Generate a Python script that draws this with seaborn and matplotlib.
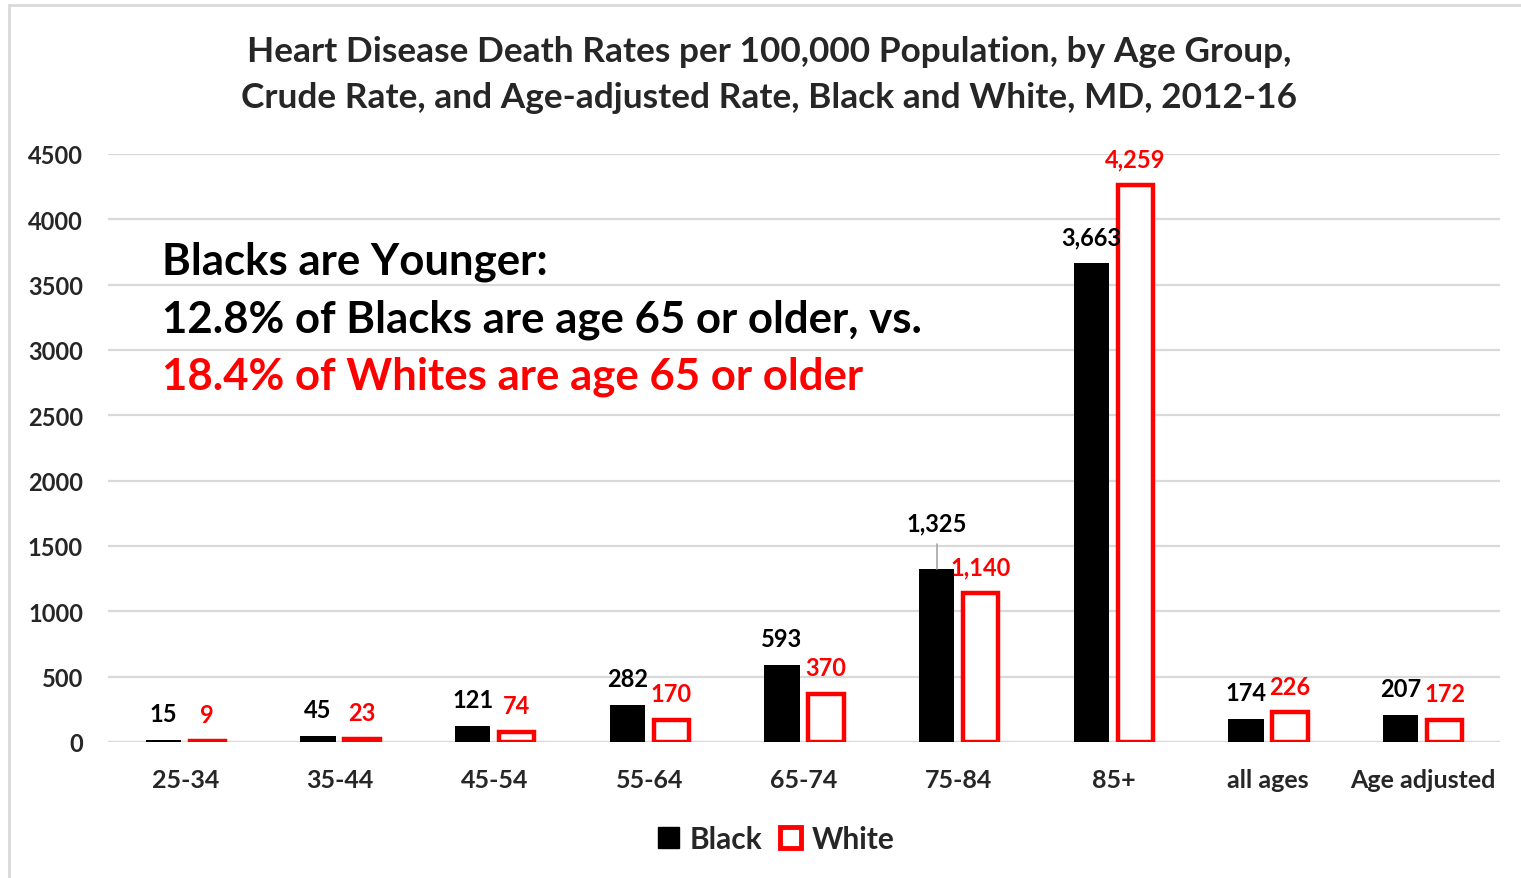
import pandas as pd
import seaborn as sns
import matplotlib.pyplot as plt
from matplotlib.patches import Rectangle, Patch

# data
age_groups = ["25-34", "35-44", "45-54", "55-64", "65-74", "75-84", "85+", "all ages", "Age adjusted"]
black_rates = [15, 45, 121, 282, 593, 1325, 3663, 174, 207]
white_rates = [9, 23, 74, 170, 370, 1140, 4259, 226, 172]
y_ticks = [0, 500, 1000, 1500, 2000, 2500, 3000, 3500, 4000, 4500]

df = pd.DataFrame({
    "group": age_groups * 2,
    "race": ["Black"] * len(age_groups) + ["White"] * len(age_groups),
    "rate": black_rates + white_rates,
})

sns.set_theme(style="white")
plt.rcParams["font.family"] = ["Lato", "DejaVu Sans"]
plt.rcParams["font.weight"] = "bold"

W, H = 1521, 879
fig = plt.figure(figsize=(W / 100, H / 100), dpi=100)
ax = fig.add_axes([108 / W, 1 - 743 / H, (1500 - 108) / W, (743 - 155) / H])

sns.barplot(data=df, x="group", y="rate", hue="race", order=age_groups,
            hue_order=["Black", "White"], palette={"Black": "black", "White": "white"},
            width=0.57, gap=0.2, ax=ax, legend=False, saturation=1)

red = "#ff0000"
for p in ax.containers[0]:
    p.set_linewidth(0)
for p in ax.containers[1]:
    p.set_edgecolor(red)
    p.set_linewidth(3.2)

# value labels
for cont, vals, col in [(ax.containers[0], black_rates, "black"), (ax.containers[1], white_rates, red)]:
    for p, v in zip(cont, vals):
        x = p.get_x() + p.get_width() / 2
        dy = 19
        if v == 1325:
            # label lifted with a leader line, like the original
            dy = 33
            ax.plot([x, x], [v, v + 190], color="#a6a6a6", lw=1.2, zorder=1)
        ax.annotate(f"{v:,}", xy=(x, v), xytext=(0, dy), textcoords="offset points",
                    ha="center", va="center", fontsize=17, fontweight="bold", color=col)

ax.set_ylim(0, 4500)
ax.set_xlim(-0.5, len(age_groups) - 0.5)
ax.set_yticks(y_ticks)
ax.set_yticklabels([str(t) for t in y_ticks])
ax.yaxis.grid(True, color="#d9d9d9", lw=1.6)
ax.set_axisbelow(True)
ax.axhline(0, color="#d9d9d9", lw=1.6, zorder=0)
sns.despine(ax=ax, left=True, bottom=True)
ax.tick_params(axis="y", length=0, pad=18, labelsize=17)
ax.tick_params(axis="x", length=0, pad=19, labelsize=18)
for lbl in ax.get_xticklabels() + ax.get_yticklabels():
    lbl.set_fontweight("bold")
ax.set_xlabel("")
ax.set_ylabel("")

fig.text(769 / W, 1 - 52 / H, "Heart Disease Death Rates per 100,000 Population, by Age Group,",
         ha="center", va="center", fontsize=25.4, fontweight="bold")
fig.text(769 / W, 1 - 98 / H, "Crude Rate, and Age-adjusted Rate, Black and White, MD, 2012-16",
         ha="center", va="center", fontsize=25.4, fontweight="bold")

fig.text(162 / W, 1 - 262 / H, "Blacks are Younger:", ha="left", va="center",
         fontsize=31.5, fontweight="bold", color="black")
fig.text(162 / W, 1 - 320 / H, "12.8% of Blacks are age 65 or older, vs.", ha="left", va="center",
         fontsize=31.5, fontweight="bold", color="black")
fig.text(162 / W, 1 - 377 / H, "18.4% of Whites are age 65 or older", ha="left", va="center",
         fontsize=31.5, fontweight="bold", color=red)

handles = [Patch(facecolor="black", edgecolor="black", label="Black"),
           Patch(facecolor="white", edgecolor=red, linewidth=3.5, label="White")]
fig.legend(handles=handles, loc="center", bbox_to_anchor=(776 / W, 1 - 840 / H), ncol=2,
           frameon=False, handlelength=0.7, handleheight=0.7,
           handletextpad=0.35, columnspacing=0.6, prop={"weight": "bold", "size": 21.5})

# light frame around the chart
fig.add_artist(Rectangle((9 / W, -0.1), 1.2, 1 - 6 / H + 0.1, transform=fig.transFigure,
                         fill=False, edgecolor="#d9d9d9", lw=2))

fig.savefig("out.png", dpi=100)
